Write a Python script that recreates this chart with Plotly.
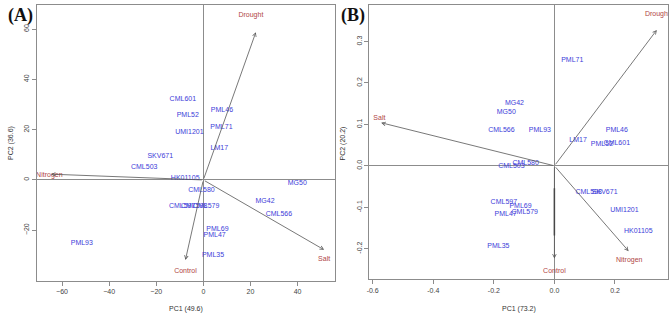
import plotly.graph_objects as go

W, H = 669, 316

# ---------------- Panel A data ----------------
a_names = ["CML601", "PML46", "PML52", "PML71", "UMI1201", "LM17", "SKV671", "CML503",
           "HK01105", "CML580", "MG50", "MG42", "CML566", "CML597", "CML598", "CML579",
           "PML69", "PML47", "PML93", "PML35"]
a_pc1 = [-8.7, 7.9, -6.6, 7.7, -5.9, 6.8, -18.3, -25.1,
         -7.7, -0.8, 39.9, 26.2, 32.1, -9.0, -3.9, 1.2,
         6.0, 4.8, -51.6, 4.1]
a_pc2 = [32.3, 27.7, 25.8, 21.0, 19.0, 12.5, 9.3, 4.9,
         0.8, -4.0, -1.5, -8.5, -13.7, -10.6, -10.6, -10.6,
         -19.5, -22.0, -25.3, -30.0]

a_vars = ["Drought", "Nitrogen", "Control", "Salt"]
a_arrow_x = [22.3, -64.7, -7.6, 51.3]
a_arrow_y = [58.8, 2.3, -31.8, -27.8]
a_varlab_x = [20.2, -65.4, -7.6, 51.3]
a_varlab_y = [65.6, 2.0, -36.3, -31.7]

a_xticks = [-60, -40, -20, 0, 20, 40]
a_yticks = [-20, 0, 20, 40, 60]

# ---------------- Panel B data ----------------
b_names = ["PML71", "MG42", "MG50", "CML566", "PML93", "PML46", "LM17", "PML52",
           "CML601", "CML503", "CML580", "CML598", "SKV671", "CML597", "PML69",
           "PML47", "CML579", "UMI1201", "HK01105", "PML35"]
b_pc1 = [0.059, -0.132, -0.159, -0.175, -0.048, 0.206, 0.078, 0.157,
         0.206, -0.142, -0.095, 0.113, 0.166, -0.167, -0.112,
         -0.161, -0.098, 0.231, 0.277, -0.185]
b_pc2 = [0.256, 0.151, 0.130, 0.086, 0.086, 0.085, 0.061, 0.052,
         0.054, 0.000, 0.007, -0.064, -0.064, -0.088, -0.097,
         -0.117, -0.113, -0.108, -0.158, -0.194]

b_vars = ["Drought", "Salt", "Nitrogen", "Control"]
b_arrow_x = [0.338, -0.572, 0.245, 0.0]
b_arrow_y = [0.328, 0.104, -0.206, -0.224]
b_varlab_x = [0.340, -0.578, 0.247, 0.0]
b_varlab_y = [0.365, 0.115, -0.229, -0.254]
b_dark_seg_y = [-0.054, -0.168]

b_xticks = [-0.6, -0.4, -0.2, 0.0, 0.2]
b_xticktext = ["-0.6", "-0.4", "-0.2", "0.0", "0.2"]
b_yticks = [-0.2, -0.1, 0.0, 0.1, 0.2, 0.3]
b_yticktext = ["-0.2", "-0.1", "0.0", "0.1", "0.2", "0.3"]

BLUE = "#3d3dd9"
RED = "#b04545"
ARROW = "#555555"
AXIS = "#8c8c8c"
FONT = "Liberation Sans"

fig = go.Figure()

fig.add_trace(go.Scatter(x=a_pc1, y=a_pc2, text=a_names, mode="text",
                         textfont=dict(family=FONT, size=7, color=BLUE),
                         xaxis="x", yaxis="y", showlegend=False, hoverinfo="skip"))
fig.add_trace(go.Scatter(x=a_varlab_x, y=a_varlab_y, text=a_vars, mode="text",
                         textfont=dict(family=FONT, size=7, color=RED),
                         xaxis="x", yaxis="y", showlegend=False, hoverinfo="skip"))
fig.add_trace(go.Scatter(x=b_pc1, y=b_pc2, text=b_names, mode="text",
                         textfont=dict(family=FONT, size=7, color=BLUE),
                         xaxis="x2", yaxis="y2", showlegend=False, hoverinfo="skip"))
fig.add_trace(go.Scatter(x=b_varlab_x, y=b_varlab_y, text=b_vars, mode="text",
                         textfont=dict(family=FONT, size=7, color=RED),
                         xaxis="x2", yaxis="y2", showlegend=False, hoverinfo="skip"))
# dark overlapping segment on Control arrow (panel B)
fig.add_trace(go.Scatter(x=[0, 0], y=b_dark_seg_y, mode="lines",
                         line=dict(color="#222222", width=1.4),
                         xaxis="x2", yaxis="y2", showlegend=False, hoverinfo="skip"))

annotations = []
for hx, hy in zip(a_arrow_x, a_arrow_y):
    annotations.append(dict(x=hx, y=hy, ax=0, ay=0, xref="x", yref="y", axref="x", ayref="y",
                            showarrow=True, arrowhead=5, arrowsize=0.9, arrowwidth=0.8,
                            arrowcolor=ARROW, text=""))
for hx, hy in zip(b_arrow_x, b_arrow_y):
    annotations.append(dict(x=hx, y=hy, ax=0, ay=0, xref="x2", yref="y2", axref="x2", ayref="y2",
                            showarrow=True, arrowhead=5, arrowsize=0.9, arrowwidth=0.8,
                            arrowcolor=ARROW, text=""))

def paper_txt(text, px, py, size=7, angle=0, family=FONT, color="#333333", bold=False):
    t = f"<b>{text}</b>" if bold else text
    return dict(text=t, x=px / W, y=1 - py / H, xref="paper", yref="paper",
                xanchor="center", yanchor="middle", showarrow=False, textangle=angle,
                font=dict(family=family, size=size, color=color))

annotations += [
    paper_txt("PC1 (49.6)", 184, 309),
    paper_txt("PC2 (36.6)", 8, 143, angle=-90),
    paper_txt("PC1 (73.2)", 518, 309),
    paper_txt("PC2 (20.2)", 342, 143, angle=-90),
    paper_txt("(A)", 17.5, 15, size=18, family="Liberation Serif", color="#111111", bold=True),
    paper_txt("(B)", 352, 15, size=18, family="Liberation Serif", color="#111111", bold=True),
]

axis_common = dict(showgrid=False, zeroline=True, zerolinecolor=AXIS, zerolinewidth=1,
                   showline=True, linecolor=AXIS, linewidth=1, mirror=True,
                   ticks="outside", ticklen=4, tickcolor=AXIS, tickwidth=1,
                   tickfont=dict(family=FONT, size=7, color="#444444"))

fig.update_layout(
    width=W, height=H,
    margin=dict(l=0, r=0, t=0, b=0),
    paper_bgcolor="white", plot_bgcolor="white",
    xaxis=dict(domain=[34 / W, 333 / W], range=[-70.7, 55.7], tickvals=a_xticks,
               anchor="y", **axis_common),
    yaxis=dict(domain=[(H - 281) / H, (H - 5) / H], range=[-40.2, 69.6], tickvals=a_yticks,
               tickangle=-90, anchor="x", **axis_common),
    xaxis2=dict(domain=[368 / W, 668 / W], range=[-0.611, 0.375], tickvals=b_xticks,
                ticktext=b_xticktext, anchor="y2", **axis_common),
    yaxis2=dict(domain=[(H - 279.3) / H, (H - 4.7) / H], range=[-0.274, 0.389],
                tickvals=b_yticks, ticktext=b_yticktext, tickangle=-90, anchor="x2",
                **axis_common),
    annotations=annotations,
)

fig.write_html("out.html", config={"displayModeBar": False},
               post_script="document.body.style.margin='0';document.body.style.overflow='hidden';")
